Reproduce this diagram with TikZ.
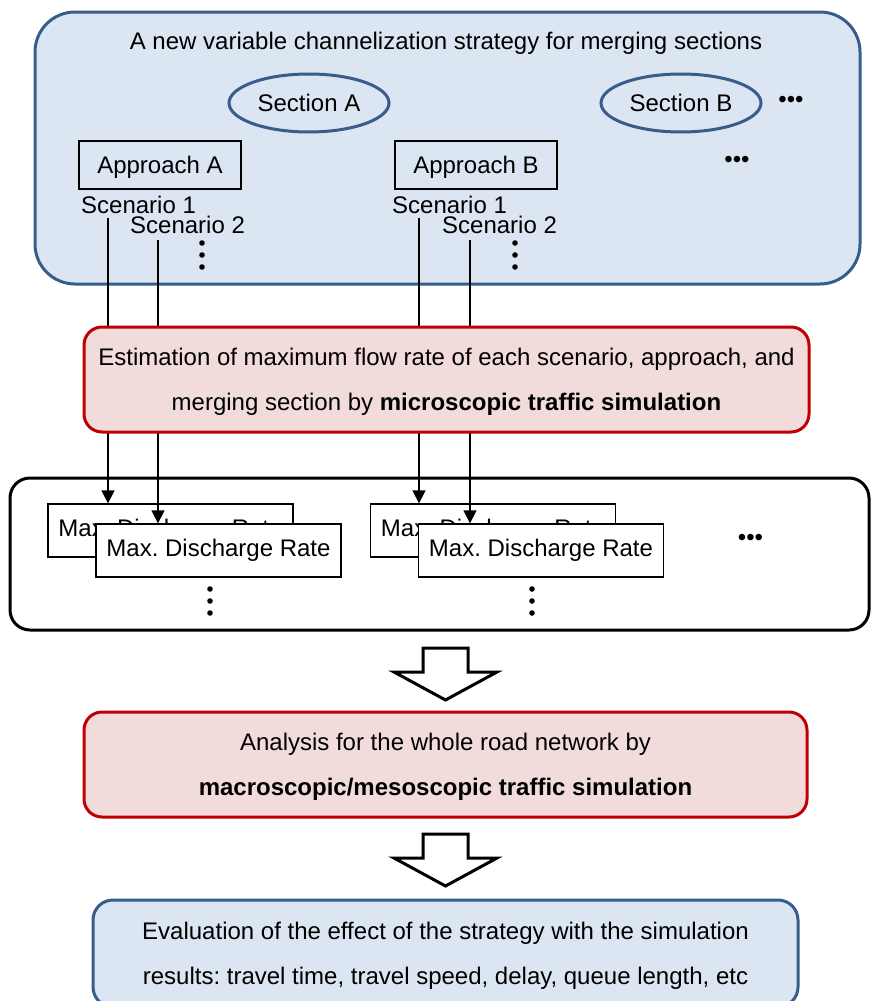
\documentclass[tikz,border=0pt]{standalone}
\usepackage{fontspec}
\setmainfont{Liberation Sans}
\frenchspacing
\usetikzlibrary{arrows.meta,shapes.geometric,calc}
\definecolor{paleblue}{RGB}{220,230,242}
\definecolor{steelblue}{RGB}{56,93,138}
\definecolor{palered}{RGB}{242,220,219}
\definecolor{darkred}{RGB}{192,0,0}
\tikzset{
  txt/.style={font=\fontsize{24pt}{45pt}\selectfont, inner sep=0pt},
  sectionnode/.style={txt, ellipse, draw=steelblue, line width=3pt,
    minimum width=160pt, minimum height=58pt},
  approachbox/.style={txt, draw, line width=1.8pt, text depth=1pt,
    minimum width=162pt, minimum height=48pt},
  ratebox/.style={txt, draw, fill=white, line width=1.3pt,
    minimum width=245pt, minimum height=53pt},
  simbox/.style={txt, align=center, draw=darkred, fill=palered, text depth=0pt,
    line width=3pt, rounded corners=18pt, minimum height=105pt},
  resultbox/.style={txt, align=center, draw=steelblue, fill=paleblue, text depth=0pt,
    line width=3pt, rounded corners=20pt, minimum height=107pt},
  feed/.style={line width=1.3pt, -{Triangle[length=13pt,width=13pt]}},
  hollow/.style={draw, fill=white, line width=3pt, line join=miter},
}

\begin{document}
\begin{tikzpicture}[x=1pt,y=-1pt]
        \useasboundingbox (0,0) rectangle (871,1001);
        % strategy container
        \draw[steelblue,fill=paleblue,line width=3pt,rounded corners=40pt]
          (35,12) rectangle (860,284);
        \node[txt] (title) at (446,43)
          {A new variable channelization strategy for merging sections};
        \node[sectionnode] (secA) at (309,103) {Section A};
        \node[sectionnode] (secB) at (681,103) {Section B};
        \node[txt] (moreSec) at (791,102) {•••};
        \node[approachbox] (appA) at (160,165) {Approach A};
        \node[approachbox] (appB) at (476,165) {Approach B};
        \node[txt] (moreApp) at (737,162) {•••};
        \node[txt,anchor=west] (sA1) at (81,205) {Scenario 1};
        \node[txt,anchor=west] (sA2) at (130,225) {Scenario 2};
        \node[txt,anchor=west] (sB1) at (392,205) {Scenario 1};
        \node[txt,anchor=west] (sB2) at (442,225) {Scenario 2};
        % rate container
        \draw[line width=3pt,rounded corners=20pt] (10,478) rectangle (869,630);
        \node[ratebox] (rateA1) at (170.5,530.5) {Max. Discharge Rate};
        \node[ratebox] (rateA2) at (218.5,550.5) {Max. Discharge Rate};
        \node[ratebox] (rateB1) at (493,530.5) {Max. Discharge Rate};
        \node[ratebox] (rateB2) at (541,550.5) {Max. Discharge Rate};
        \node[txt] (moreRate) at (750.5,540) {•••};
        \foreach \dx/\dy in {202/243, 515/243, 210/589, 532/589}
          \foreach \k in {0,1,2}
            \fill (\dx,\dy+12*\k) circle (2.8pt);
        % scenario feeds
        \draw[feed] ($(sA1.south west)+(27,4)$) -- ($(sA1.south west |- rateA1.north)+(27,0)$);
        \draw[feed] ($(sA2.south west)+(28,6)$) -- ($(sA2.south west |- rateA2.north)+(28,0)$);
        \draw[feed] ($(sB1.south west)+(27,4)$) -- ($(sB1.south west |- rateB1.north)+(27,0)$);
        \draw[feed] ($(sB2.south west)+(28,6)$) -- ($(sB2.south west |- rateB2.north)+(28,0)$);
        \node[simbox,minimum width=725pt] (micro) at (446.5,379.5)
          {Estimation of maximum flow rate of each scenario, approach, and\\
           merging section by \textbf{microscopic traffic simulation}};
        % block arrows
        \foreach \ty in {648,834}
          \draw[hollow] (423,\ty) -- (468,\ty) -- (468,\ty+24) -- (497,\ty+24)
            -- (445.5,\ty+52) -- (394,\ty+24) -- (423,\ty+24) -- cycle;
        \node[simbox,minimum width=723pt] (macro) at (445.5,764.5)
          {Analysis for the whole road network by\\
           \textbf{macroscopic/mesoscopic traffic simulation}};
        \node[resultbox,minimum width=705pt] (evalu) at (445.5,953.5)
          {Evaluation of the effect of the strategy with the simulation\\
           results: travel time, travel speed, delay, queue length, etc};
      \end{tikzpicture}
\end{document}
